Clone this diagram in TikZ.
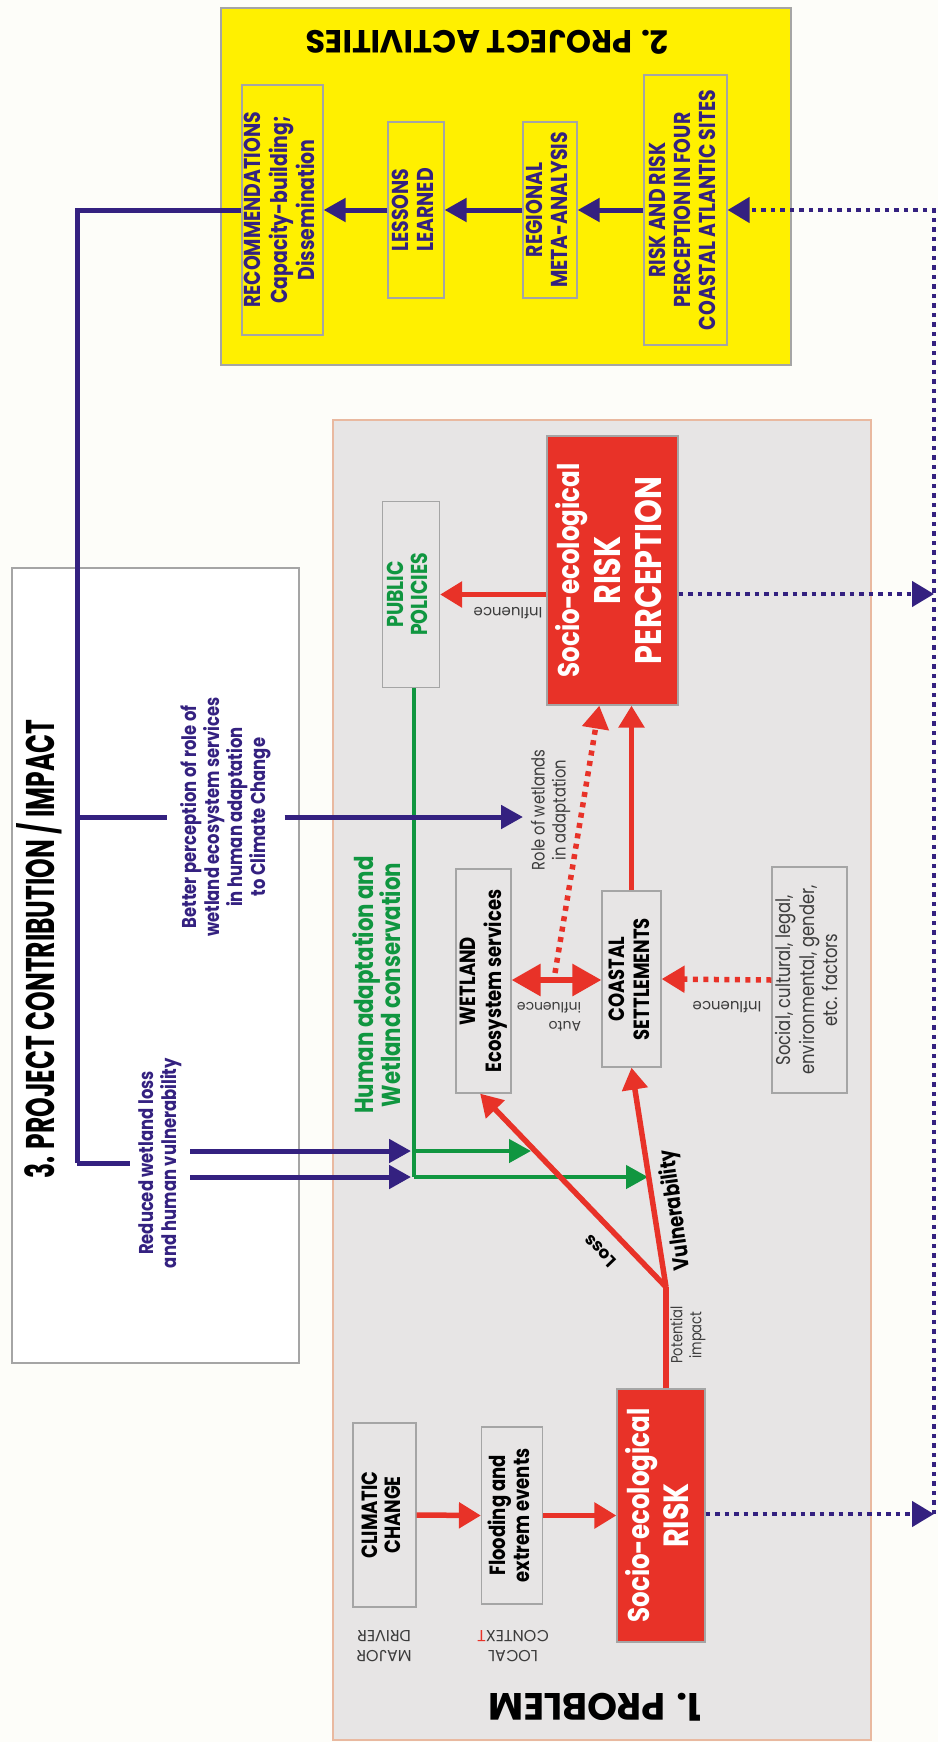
\documentclass[tikz,border=0pt]{standalone}
\usepackage{graphicx}
\usepackage{fontspec}
\setmainfont{Poppins}[FakeStretch=0.82]
\newfontfamily\hfont{Poppins}
\newfontfamily\condfont{Poppins}[FakeStretch=0.625]
\usetikzlibrary{arrows.meta,calc}
\definecolor{navy}{RGB}{52,33,128}
\definecolor{pred}{RGB}{232,50,40}
\definecolor{pgreen}{RGB}{16,150,64}
\definecolor{ybg}{RGB}{255,240,0}
\definecolor{gbg}{RGB}{231,229,229}
\definecolor{salmon}{RGB}{233,185,160}
\definecolor{boxline}{RGB}{165,165,165}
\definecolor{lbl}{RGB}{60,60,60}
\definecolor{pagebg}{RGB}{253,253,249}
\newcommand{\vtext}[3]{\rotatebox{90}{\fontsize{#1}{#2}\selectfont\begin{tabular}{@{}c@{}}#3\end{tabular}}}
\newcommand{\utext}[3]{\rotatebox{180}{\hfont\fontsize{#1}{#2}\selectfont\begin{tabular}{@{}c@{}}#3\end{tabular}}}
\newcommand{\ultext}[3]{\rotatebox{180}{\hfont\fontsize{#1}{#2}\selectfont\begin{tabular}{@{}l@{}}#3\end{tabular}}}
\begin{document}
\begin{tikzpicture}[x=1pt,y=-1pt,
  pbox/.style={draw=boxline, line width=1.2pt, inner sep=0pt, fill=#1},
  pbox/.default=gbg,
  tnode/.style={inner sep=0pt},
  navyline/.style={draw=navy, line width=5pt},
  navyarrow/.style={draw=navy, line width=5pt, -{Triangle[length=22pt,width=23pt]}},
  navydot/.style={draw=navy, line width=4.5pt, dash pattern=on 4.5pt off 5pt},
  navydotarrow/.style={navydot, -{Triangle[length=22pt,width=25pt]}},
  redline/.style={draw=pred, line width=5.5pt},
  redarrow/.style={draw=pred, line width=5.5pt, -{Triangle[length=22pt,width=25pt]}},
  reddotarrow/.style={draw=pred, line width=5.5pt, dash pattern=on 5pt off 5.5pt, -{Triangle[length=23pt,width=26pt]}},
  redboth/.style={draw=pred, line width=6pt, {Triangle[length=29pt,width=31pt]}-{Triangle[length=29pt,width=31pt]}},
  greenline/.style={draw=pgreen, line width=4.5pt},
  greenarrow/.style={draw=pgreen, line width=4.5pt, -{Triangle[length=22pt,width=23pt]}}
]
\useasboundingbox[fill=pagebg] (0,0) rectangle (938,1742);

% ---------- panels ----------
\node[pbox=white, minimum width=287pt, minimum height=795pt] (impact) at (155.5,965.5) {};
\node[tnode] (impacttitle) at (39,949) {\rotatebox{90}{\condfont\bfseries\fontsize{40}{40}\selectfont 3. PROJECT CONTRIBUTION / IMPACT}};

\node[draw=salmon, fill=gbg, line width=1.5pt, inner sep=0pt, minimum width=538pt, minimum height=1320pt] (problem) at (602,1080) {};
\node[tnode] (problemtitle) at (595,1707) {\rotatebox{180}{\hfont\bfseries\fontsize{38}{38}\selectfont 1. PROBLEM}};

\node[pbox=ybg, minimum width=570pt, minimum height=357pt] (activities) at (506,186.5) {};
\node[tnode] (acttitle) at (487,42) {\rotatebox{180}{\hfont\bfseries\fontsize{32}{32}\selectfont 2. PROJECT ACTIVITIES}};

% ---------- activities ----------
\node[pbox=ybg, minimum width=79pt, minimum height=250pt, text=navy, font=\bfseries] (rec) at (282.5,210)
  {\vtext{23}{27}{RECOMMENDATIONS\\Capacity-building;\\Dissemination}};
\node[pbox=ybg, minimum width=56pt, minimum height=176pt, text=navy, font=\bfseries] (lessons) at (416,210)
  {\vtext{23}{25}{LESSONS\\LEARNED}};
\node[pbox=ybg, minimum width=54pt, minimum height=176pt, text=navy, font=\bfseries] (regional) at (550,210)
  {\vtext{23}{25}{REGIONAL\\META-ANALYSIS}};
\node[pbox=ybg, minimum width=83pt, minimum height=270pt, text=navy, font=\bfseries] (riskfour) at (685.5,210)
  {\vtext{23}{25}{RISK AND RISK\\PERCEPTION IN FOUR\\COASTAL ATLANTIC SITES}};

\draw[navyarrow] (riskfour.west) -- (regional.east);
\draw[navyarrow] (regional.west) -- (lessons.east);
\draw[navyarrow] (lessons.west) -- (rec.east);

% ---------- problem ----------
\node[pbox, minimum width=57pt, minimum height=186pt, text=pgreen, font=\bfseries] (policies) at (411,594.5)
  {\vtext{23}{24}{PUBLIC\\POLICIES}};
\node[pbox=pred, minimum width=131pt, minimum height=269pt, text=white, font=\bfseries] (riskperc) at (612.5,570.5)
  {\vtext{37}{41}{{\fontsize{30}{41}\selectfont Socio-ecological}\\RISK\\PERCEPTION}};
\node[pbox, minimum width=55pt, minimum height=224pt, font=\bfseries] (wetland) at (483.5,981)
  {\vtext{22}{25}{WETLAND\\Ecosystem services}};
\node[pbox, minimum width=59pt, minimum height=176pt, font=\bfseries] (coastal) at (631.5,979)
  {\vtext{22}{25}{COASTAL\\SETTLEMENTS}};
\node[pbox, minimum width=75pt, minimum height=226pt, text=lbl] (social) at (809.5,980)
  {\vtext{20}{23.5}{Social, cultural, legal,\\environmental, gender,\\etc. factors}};
\node[pbox, minimum width=63pt, minimum height=184pt, font=\bfseries] (climatic) at (384.5,1515)
  {\vtext{22}{23}{CLIMATIC\\CHANGE}};
\node[pbox, minimum width=61pt, minimum height=177pt, font=\bfseries] (flooding) at (512,1515.5)
  {\vtext{22}{24}{Flooding and\\extrem events}};
\node[pbox=pred, minimum width=88pt, minimum height=253pt, text=white, font=\bfseries] (risk) at (661,1515.5)
  {\vtext{35}{39}{{\fontsize{30}{39}\selectfont Socio-ecological}\\RISK}};

% labels
\node[tnode, text=lbl] (infl1) at (508,611) {\utext{15}{18}{Influence}};
\node[tnode, text=lbl] (autoinfl) at (549,1016) {\ultext{14}{19}{Auto\\influence}};
\node[tnode, text=lbl] (infl2) at (727,1005) {\utext{15}{18}{Influence}};
\node[tnode, text=lbl] (role) at (551,810) {\vtext{18}{21}{Role of wetlands\\in adaptation}};
\node[tnode, text=lbl] (potential) at (688,1335) {\vtext{16}{19}{Potential\\impact}};
\node[tnode, text=lbl] (major) at (384,1644) {\utext{16}{20}{MAJOR\\DRIVER}};
\node[tnode, text=lbl] (local) at (513,1644) {\utext{16}{20}{LOCAL\\CONTEX{\color{pred}T}}};
\node[tnode, rotate=134, font=\hfont\bfseries\fontsize{17}{17}\selectfont] (loss) at (600,1251) {Loss};
\node[tnode, rotate=97.7, font=\bfseries\fontsize{22}{22}\selectfont] (vuln) at (676,1210) {Vulnerability};
\node[tnode, text=pgreen, font=\bfseries] (human) at (380,985)
  {\vtext{26}{23}{Human adaptation and\\Wetland conservation}};

% impact texts
\node[tnode, text=navy, font=\bfseries, minimum width=117pt] (better) at (226,817)
  {\vtext{20}{23}{Better perception of role of\\wetland ecosystem services\\in human adaptation\\to Climate Change}};
\node[tnode, text=navy, font=\bfseries, minimum width=60pt] (reduced) at (160,1163)
  {\vtext{20}{23}{Reduced wetland loss\\and human vulnerability}};

% coordinates
\coordinate (c3top) at (77,210);
\coordinate (c3mid) at (77,817);
\coordinate (c3bot) at (77,1163);
\coordinate (roletip) at (523,817);
\coordinate (gv1) at (414,1151);
\coordinate (gv2) at (414,1177);
\coordinate (gtip1) at (531,1151);
\coordinate (gtip2) at (648,1177);
\coordinate (branch) at (666,1287);
\coordinate (dmid) at (555,973);
\coordinate (vtop) at (934,210);
\coordinate (vmid) at (934,594);
\coordinate (vbot) at (934,1514);
\coordinate (wl) at (511,980);
\coordinate (cl) at (602,980);

% ---------- connectors ----------
\draw[navyline] (rec.west) -- (c3top) -- (c3bot);
\draw[navyline] (c3mid) -- (better.west);
\draw[navyline] (c3bot) -- (reduced.west);
% green
\draw[greenline] (policies.south -| gv1) -- (gv2);
\draw[greenarrow] (gv1) -- (gtip1);
\draw[greenarrow] (gv2) -- (gtip2);
% navy arrows into problem
\draw[navyarrow] (better.east) -- (roletip);
\draw[navyarrow, shorten >=3pt] (reduced.east |- gv1) -- (gv1);
\draw[navyarrow, shorten >=3pt] (reduced.east |- gv2) -- (gv2);
% red
\draw[redarrow] (climatic.east) -- (flooding.west);
\draw[redarrow] (flooding.east) -- (risk.west);
\draw[redline] (risk.north -| branch) -- (branch);
\draw[redarrow] (branch) -- ($(wetland.south west)!0.44!(wetland.south east)$);
\draw[redarrow] (branch) -- (coastal.south);
\draw[redboth] (wetland.east |- wl) -- (coastal.west |- cl);
\draw[reddotarrow] (dmid) -- ($(riskperc.south west)!0.40!(riskperc.south east)$);
\draw[redarrow] (coastal.north) -- (coastal.north |- riskperc.south);
\draw[reddotarrow] (social.west) -- (coastal.east);
\draw[redarrow] (riskperc.west |- policies) -- (policies.east);
% dotted feedback
\draw[navydotarrow] (risk.east |- vbot) -- (vbot);
\draw[navydotarrow] (riskperc.east |- vmid) -- (vmid);
\draw[navydotarrow] (vbot) -- (vtop) -- (riskfour.east);
\end{tikzpicture}
\end{document}
